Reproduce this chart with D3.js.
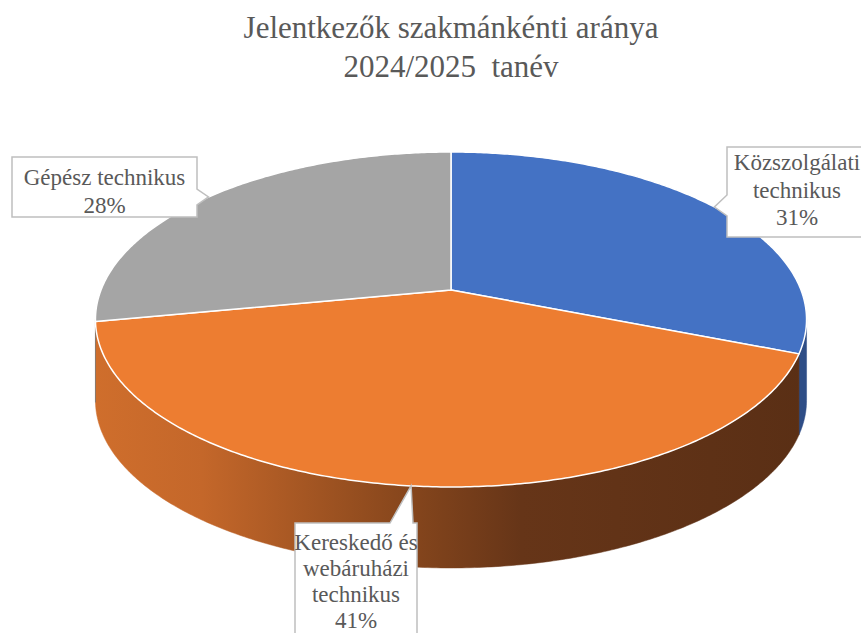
<!DOCTYPE html>
<html>
<head>
<meta charset="utf-8">
<script src="https://cdnjs.cloudflare.com/ajax/libs/d3/7.8.5/d3.min.js"></script>
<style>
  body { margin: 0; background: #fff; }
</style>
</head>
<body>
<div id="chart"></div>
<script>
  // data
  var categories = ["Közszolgálati technikus", "Kereskedő és webáruházi technikus", "Gépész technikus"];
  var values = [31, 41, 28];
  var labelLines = [
    ["Közszolgálati", "technikus", "31%"],
    ["Kereskedő és", "webáruházi", "technikus", "41%"],
    ["Gépész technikus", "28%"]
  ];
  var titleLines = ["Jelentkezők szakmánkénti aránya", "2024/2025  tanév"];

  var colors = ["#4472c4", "#ed7d31", "#a5a5a5"];
  var sideColors = ["#2e4d86", "url(#sideOrange)", "#707070"];

  var width = 861, height = 633;

  // pick the first serif face that is really installed
  var ctx = document.createElement("canvas").getContext("2d");
  function w(f) { ctx.font = "40px " + f; return ctx.measureText("Jelentkezők mmmiii 2024").width; }
  var font = ["'Liberation Serif'", "Tinos", "'Times New Roman'", "'DejaVu Serif'", "'Noto Serif'", "FreeSerif"]
    .filter(function(f) { return w(f + ", monospace") !== w("monospace"); })[0] || "serif";

  var svg = d3.select("#chart")
    .append("svg")
    .attr("width", width)
    .attr("height", height);

  // perspective ellipse for the tilted pie
  var cx = 451, cy = 290, A = 350, B = 162.3, e = 0.176, depth = 81;

  function proj(t, h) {
    var den = 1 + e * Math.cos(t);
    return [cx + A * Math.sin(t) / den, cy - B * Math.cos(t) / den + (h || 0)];
  }

  function arcPoints(a0, a1, h) {
    var n = Math.max(2, Math.ceil(Math.abs(a1 - a0) / 0.01));
    return d3.range(n + 1).map(function(i) { return proj(a0 + (a1 - a0) * i / n, h); });
  }

  var pie = d3.pie().sort(null).startAngle(0).endAngle(2 * Math.PI);
  var arcs = pie(values);

  var defs = svg.append("defs");
  var grad = defs.append("linearGradient")
    .attr("id", "sideOrange")
    .attr("gradientUnits", "userSpaceOnUse")
    .attr("x1", 95).attr("y1", 0).attr("x2", 806).attr("y2", 0);
  grad.append("stop").attr("offset", "0").attr("stop-color", "#cf6e2c");
  grad.append("stop").attr("offset", "0.15").attr("stop-color", "#c4672a");
  grad.append("stop").attr("offset", "0.42").attr("stop-color", "#8a481d");
  grad.append("stop").attr("offset", "0.6").attr("stop-color", "#663518");
  grad.append("stop").attr("offset", "1").attr("stop-color", "#5a2f15");

  var line = d3.line();

  // visible side range (front half in perspective)
  var sideStart = Math.acos(-e), sideEnd = 2 * Math.PI - Math.acos(-e);

  var sides = svg.append("g");
  arcs.forEach(function(d, i) {
    var a0 = Math.max(d.startAngle, sideStart), a1 = Math.min(d.endAngle, sideEnd);
    if (a1 <= a0) return;
    var pts = arcPoints(a0, a1, 0).concat(arcPoints(a1, a0, depth));
    sides.append("path")
      .attr("d", line(pts) + "Z")
      .attr("fill", sideColors[i])
      .attr("stroke", sideColors[i])
      .attr("stroke-width", 0.5);
  });

  // top faces
  var tops = svg.append("g");
  arcs.forEach(function(d, i) {
    var pts = [[cx, cy]].concat(arcPoints(d.startAngle, d.endAngle, 0));
    tops.append("path")
      .attr("d", line(pts) + "Z")
      .attr("fill", colors[i])
      .attr("stroke", "#fff")
      .attr("stroke-width", 1.5)
      .attr("stroke-linejoin", "round");
  });

  // title
  svg.append("g").selectAll("text")
    .data(titleLines)
    .enter().append("text")
    .attr("x", 451)
    .attr("y", function(d, i) { return 38 + i * 39; })
    .attr("text-anchor", "middle")
    .style("font-family", font)
    .attr("font-size", 31)
    .attr("fill", "#595959")
    .style("white-space", "pre")
    .text(function(d) { return d; });

  // data label callouts: box, pointer side, pointer base, first baseline, line step
  var boxes = [
    { x: 727, y: 147, w: 140, h: 90, side: "left", b: [195, 216], y0: 170, lh: 27.5 },
    { x: 295, y: 523, w: 122, h: 120, side: "top", b: [390, 413], y0: 550, lh: 26 },
    { x: 12, y: 157, w: 185, h: 60, side: "right", b: [189, 205], y0: 185, lh: 28 }
  ];

  var labels = svg.append("g");
  arcs.forEach(function(d, i) {
    var bx = boxes[i];
    var tip = proj((d.startAngle + d.endAngle) / 2, 0);
    var x0 = bx.x, y0 = bx.y, x1 = bx.x + bx.w, y1 = bx.y + bx.h;
    var pts;
    if (bx.side === "left")
      pts = [[x0, y0], [x1, y0], [x1, y1], [x0, y1], [x0, bx.b[1]], tip, [x0, bx.b[0]]];
    else if (bx.side === "right")
      pts = [[x0, y0], [x1, y0], [x1, bx.b[0]], tip, [x1, bx.b[1]], [x1, y1], [x0, y1]];
    else
      pts = [[x0, y0], [bx.b[0], y0], tip, [bx.b[1], y0], [x1, y0], [x1, y1], [x0, y1]];
    labels.append("path")
      .attr("d", line(pts) + "Z")
      .attr("fill", "#fff")
      .attr("stroke", "#bfbfbf")
      .attr("stroke-width", 1.5);

    labels.selectAll(null)
      .data(labelLines[i])
      .enter().append("text")
      .attr("x", (x0 + x1) / 2)
      .attr("y", function(t, j) { return bx.y0 + j * bx.lh; })
      .attr("text-anchor", "middle")
      .style("font-family", font)
      .attr("font-size", 23)
      .attr("fill", "#595959")
      .text(function(t) { return t; });
  });
</script>
</body>
</html>
